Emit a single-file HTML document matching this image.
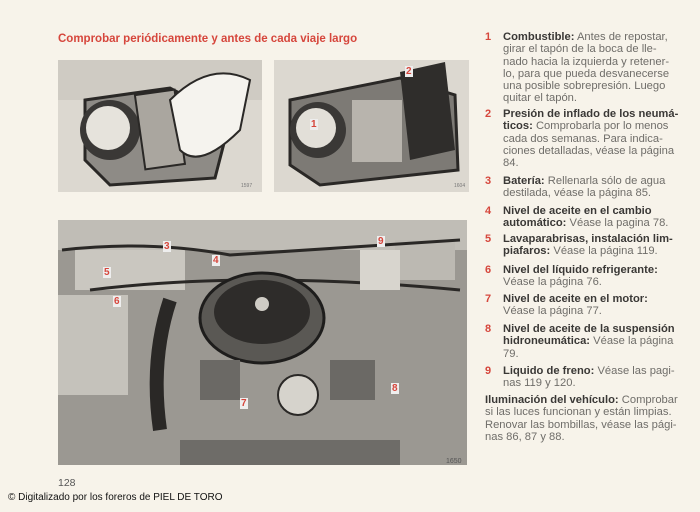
<!DOCTYPE html>
<html><head><meta charset="utf-8"><style>
body{margin:0;width:700px;height:512px;background:#f7f3ea;position:relative;overflow:hidden;font-family:"Liberation Sans",sans-serif;}
.t{position:absolute;font-size:11.2px;color:#6f6d69;white-space:nowrap;line-height:12.3px;}
.t b{color:#3a3836;}
.n{position:absolute;left:485px;font-size:11px;color:#d6463c;font-weight:bold;}
.r{position:absolute;color:#d6463c;font-weight:bold;font-size:10px;background:#eee;padding:0 1px;}
</style></head><body>
<div style="position:absolute;left:58px;top:33px;font-size:11.5px;color:#d6463c;font-weight:bold;">Comprobar periódicamente y antes de cada viaje largo</div>

<svg style="position:absolute;left:0;top:0" width="700" height="512">
<rect x="58" y="60" width="204" height="132" fill="#dcd8d0"/>
<rect x="58" y="60" width="204" height="40" fill="#cfcbc3"/>
<path d="M85 100 L170 88 L230 120 L215 178 L110 185 L85 160 Z" fill="#8e8b86" stroke="#2a2826" stroke-width="3"/>
<circle cx="110" cy="130" r="30" fill="#3a3836"/><circle cx="108" cy="128" r="22" fill="#e6e3dc"/>
<rect x="140" y="92" width="40" height="75" fill="#aaa69f" stroke="#2a2826" stroke-width="2" transform="rotate(-8 160 130)"/>
<path d="M170 100 Q210 60 250 80 L240 130 Q200 170 180 150 Z" fill="#f5f3ee" stroke="#2a2826" stroke-width="2"/>
<rect x="274" y="60" width="195" height="132" fill="#dcd8d0"/>
<path d="M290 100 L400 78 L455 95 L458 170 L320 185 L290 165 Z" fill="#7d7a75" stroke="#2a2826" stroke-width="3"/>
<circle cx="318" cy="130" r="28" fill="#3a3836"/><circle cx="316" cy="128" r="20" fill="#e2dfd8"/>
<rect x="352" y="100" width="50" height="62" fill="#b8b4ad"/>
<path d="M400 72 L445 62 L455 150 L410 160 Z" fill="#2f2d2b"/>
<rect x="58" y="220" width="409" height="245" fill="#9b9892"/>
<rect x="58" y="220" width="409" height="30" fill="#c0bdb6"/>
<rect x="75" y="250" width="110" height="40" fill="#cac7c0"/>
<rect x="58" y="295" width="70" height="100" fill="#c5c2bb"/>
<rect x="395" y="240" width="60" height="40" fill="#bcb9b2"/>
<path d="M62 250 Q150 240 230 255 Q300 250 460 240" stroke="#2a2826" stroke-width="3" fill="none"/>
<path d="M90 290 Q250 270 460 290" stroke="#2a2826" stroke-width="3" fill="none"/>
<ellipse cx="262" cy="318" rx="62" ry="45" fill="#5a5854" stroke="#1e1d1c" stroke-width="3"/>
<ellipse cx="262" cy="312" rx="48" ry="32" fill="#2e2c2a"/>
<circle cx="262" cy="304" r="7" fill="#cfccc5"/>
<path d="M170 300 Q150 360 160 430" stroke="#2a2826" stroke-width="14" fill="none"/>
<circle cx="298" cy="395" r="20" fill="#d6d3cc" stroke="#2a2826" stroke-width="2"/>
<rect x="180" y="440" width="220" height="25" fill="#6e6c68"/>
<rect x="200" y="360" width="40" height="40" fill="#6b6965"/>
<rect x="330" y="360" width="45" height="40" fill="#6b6965"/>
<rect x="360" y="250" width="40" height="40" fill="#d8d5ce"/>
<text x="241" y="187" font-size="5" fill="#777" font-family="Liberation Sans">1597</text>
<text x="454" y="187" font-size="5" fill="#777" font-family="Liberation Sans">1604</text>
<text x="446" y="463" font-size="7" fill="#555" font-family="Liberation Sans">1650</text>
</svg>
<div class="r" style="left:405px;top:66px">2</div>
<div class="r" style="left:310px;top:119px">1</div>
<div class="r" style="left:163px;top:241px">3</div>
<div class="r" style="left:212px;top:255px">4</div>
<div class="r" style="left:103px;top:267px">5</div>
<div class="r" style="left:113px;top:296px">6</div>
<div class="r" style="left:240px;top:398px">7</div>
<div class="r" style="left:391px;top:383px">8</div>
<div class="r" style="left:377px;top:236px">9</div>

<div class="n" style="top:31px">1</div>
<div class="t" style="left:503px;top:31px"><b>Combustible:</b> Antes de repostar,<br>girar el tapón de la boca de lle-<br>nado hacia la izquierda y retener-<br>lo, para que pueda desvanecerse<br>una posible sobrepresión. Luego<br>quitar el tapón.</div>
<div class="n" style="top:108px">2</div>
<div class="t" style="left:503px;top:108px"><b>Presión de inflado de los neumá-<br>ticos:</b> Comprobarla por lo menos<br>cada dos semanas. Para indica-<br>ciones detalladas, véase la página<br>84.</div>
<div class="n" style="top:175px">3</div>
<div class="t" style="left:503px;top:175px"><b>Batería:</b> Rellenarla sólo de agua<br>destilada, véase la página 85.</div>
<div class="n" style="top:205px">4</div>
<div class="t" style="left:503px;top:205px"><b>Nivel de aceite en el cambio<br>automático:</b> Véase la pagina 78.</div>
<div class="n" style="top:233px">5</div>
<div class="t" style="left:503px;top:233px"><b>Lavaparabrisas, instalación lim-<br>piafaros:</b> Véase la página 119.</div>
<div class="n" style="top:264px">6</div>
<div class="t" style="left:503px;top:264px"><b>Nivel del líquido refrigerante:</b><br>Véase la página 76.</div>
<div class="n" style="top:293px">7</div>
<div class="t" style="left:503px;top:293px"><b>Nivel de aceite en el motor:</b><br>Véase la página 77.</div>
<div class="n" style="top:323px">8</div>
<div class="t" style="left:503px;top:323px"><b>Nivel de aceite de la suspensión<br>hidroneumática:</b> Véase la página<br>79.</div>
<div class="n" style="top:365px">9</div>
<div class="t" style="left:503px;top:365px"><b>Liquido de freno:</b> Véase las pagi-<br>nas 119 y 120.</div>
<div class="t" style="left:485px;top:394px"><b>Iluminación del vehículo:</b> Comprobar<br>si las luces funcionan y están limpias.<br>Renovar las bombillas, véase las pági-<br>nas 86, 87 y 88.</div>

<div style="position:absolute;left:58px;top:477px;font-size:10.5px;color:#555">128</div>
<div style="position:absolute;left:8px;top:492px;font-size:10px;color:#111">© Digitalizado por los foreros de PIEL DE TORO</div>
</body></html>
